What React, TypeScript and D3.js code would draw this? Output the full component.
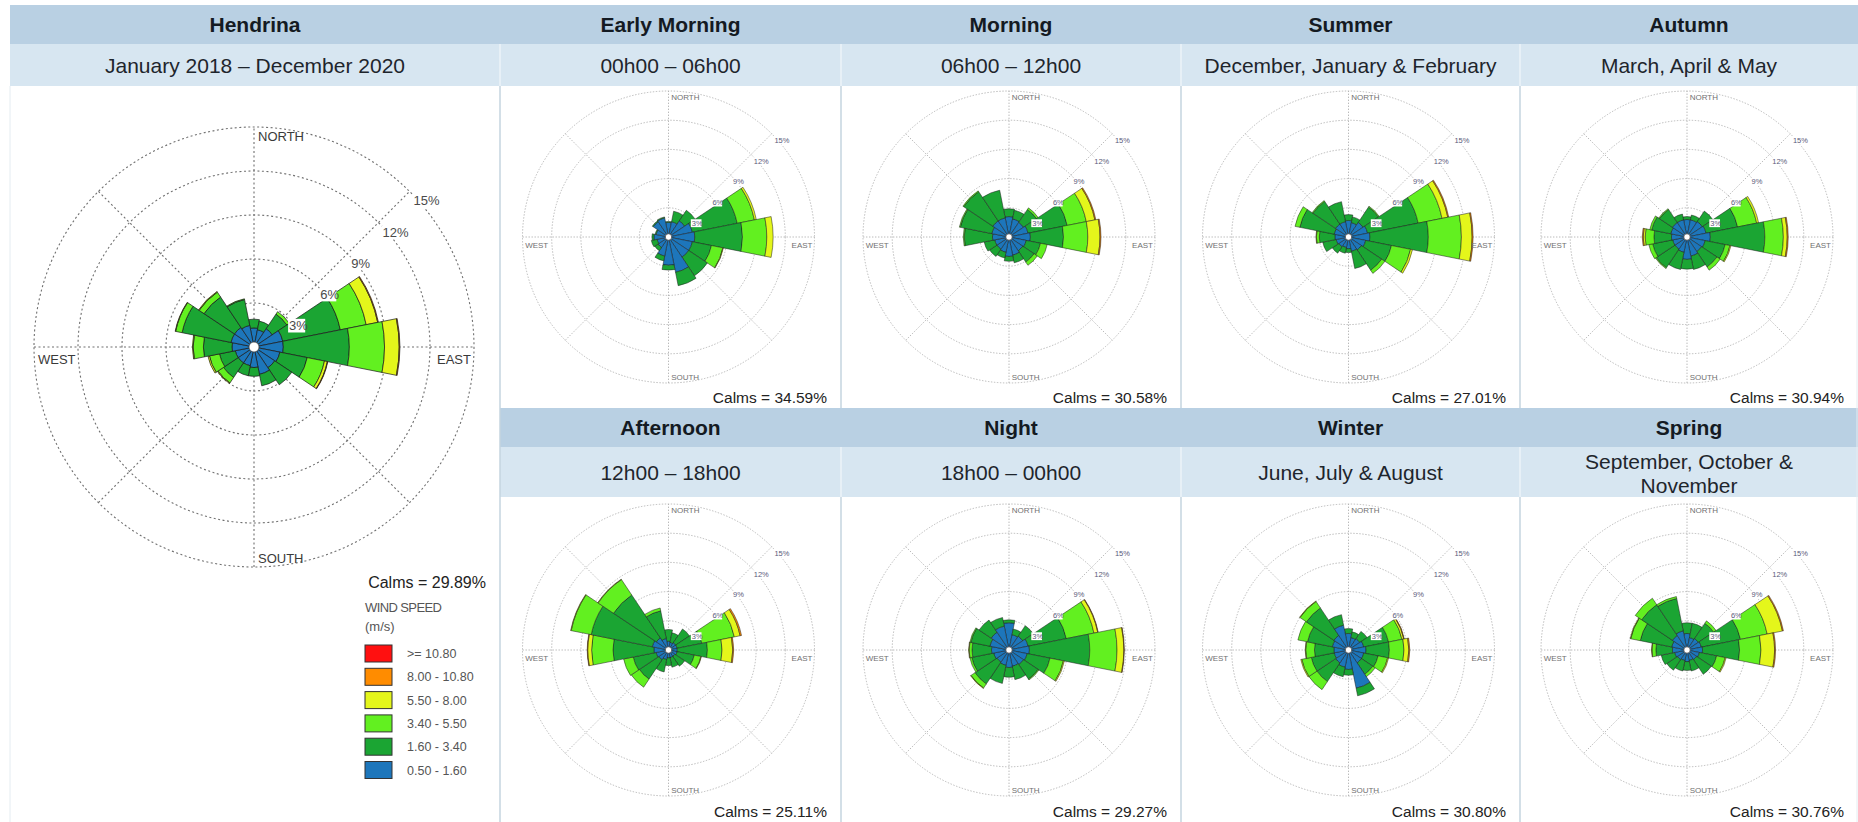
import React from "react";
import * as d3 from "d3";

// ---------- data ----------
// per direction (N, NNE, ... NNW): % frequency per speed class
// [0.50-1.60, 1.60-3.40, 3.40-5.50, 5.50-8.00, 8.00-10.80, >=10.80]
const directions = ["N","NNE","NE","ENE","E","ESE","SE","SSE","S","SSW","SW","WSW","W","WNW","NW","NNW"];

const hendrinaAll = [
  [1.3,0.6],[1.2,0.6],[1.5,1.2,0.2],[2.0,4.0,1.8,0.8,0.05],[2.0,4.5,2.4,1.0,0.05],[1.8,1.9,1.2,0.2,0.03],
  [1.7,1.4],[1.9,0.8],[1.4,0.6],[1.3,0.7],[1.3,1.2,0.45,0.05],[1.3,1.1,0.7,0.1],
  [1.5,1.95,0.7,0.05],[1.6,3.4,0.45,0.03],[1.6,2.5,0.4,0.05],[1.5,1.8,0.05],
];
const earlyMorning = [
  [1.5,0.1],[1.6,1.1],[2.0,1.3],[2.5,4.7,1.8,0.2],[2.7,4.9,2.5,0.65],[2.5,2.0,1.2,0.05],
  [2.5,2.3],[3.7,1.4],[2.9,0.5],[2.0,0.5],[1.3,0.4],[1.2,0.6],
  [1.5,0.2],[1.3,0.1],[1.9,0.1],[2.0,0.1],
];
const morning = [
  [2.1,0.8],[1.9,0.9],[1.8,1.6,0.2],[2.0,4.1,2.0,0.9,0.1],[2.2,3.4,2.5,1.25,0.1],[1.8,1.5,0.7],
  [1.7,1.4,0.4],[1.9,0.8],[2.0,0.5],[1.6,0.6],[1.5,0.9],[1.5,1.1],
  [1.7,2.9,0.1],[1.8,3.3,0.1],[2.0,3.6,0.1],[2.0,2.9],
];
const summer = [
  [1.7,0.6],[1.5,0.6],[1.8,1.9,0.1],[2.0,5.3,2.5,0.6,0.1],[2.2,6.0,3.4,1.1,0.1],[1.8,2.7,2.0,0.2],
  [1.6,2.5,0.4],[1.5,1.8],[1.2,0.4],[1.1,0.6],[1.2,0.8],[1.3,1.4],
  [1.4,1.6,0.3,0.05],[1.5,3.6,0.5],[1.6,2.8,0.1],[1.6,2.1],
];
const autumn = [
  [1.8,0.3],[1.8,0.5],[1.9,1.3],[2.0,3.3,2.0,0.2],[2.4,5.6,1.9,0.4,0.1],[1.9,2.1,0.5,0.1],
  [1.8,1.9,0.4],[2.0,1.4],[2.3,1.0],[1.6,1.8],[1.5,2.3,0.1],[1.5,2.1,0.4],
  [1.6,1.8,0.9,0.2,0.1],[1.7,2.0,0.2],[1.8,1.6,0.1],[1.8,0.6],
];
const afternoon = [
  [0.9,1.2],[0.8,1.0],[0.9,1.7],[0.9,2.6,3.4,0.6,0.15],[0.9,3.1,1.5,1.1,0.1],[0.9,1.8,0.7,0.05],
  [0.8,1.2],[0.8,1.0],[0.8,0.8],[1.0,1.3],[1.2,2.4,1.0],[1.3,2.4,1.0],
  [1.5,4.2,2.2,0.4,0.05],[1.7,6.4,2.1,0.05],[1.5,5.3,1.9,0.05],[1.2,2.9,0.3],
];
const night = [
  [2.8,0.3],[1.6,0.6],[1.7,1.3],[2.0,4.0,2.9,0.4,0.05],[2.1,6.2,2.8,0.7,0.05],[1.9,2.4,1.4,0.1],
  [1.8,1.8,0.1],[1.7,1.4],[1.8,1.0],[1.6,1.9],[1.5,2.7,0.5,0.05],[1.6,2.3,0.2],
  [1.8,2.0,0.3,0.05],[2.0,2.0,0.1],[2.2,1.5],[2.5,0.9],
];
const winter = [
  [1.7,0.5],[1.3,0.6],[1.4,0.9],[1.6,2.6,1.4,0.2,0.05],[1.8,2.4,1.5,0.5,0.1],[1.6,1.5,1.0,0.1],
  [1.6,1.4,0.3],[4.0,0.8],[2.0,0.6],[1.8,1.0],[1.6,2.3,1.0],[1.5,2.4,1.0,0.1],
  [1.5,2.0,0.9,0.05],[1.7,2.6,1.0],[1.8,3.4,0.8,0.05],[2.6,1.1],
];
const spring = [
  [1.7,1.1],[1.3,1.5],[1.4,1.9,0.3],[1.5,4.1,2.8,1.6,0.1],[1.6,3.8,2.2,1.4,0.1],[1.3,1.8,0.9,0.1],
  [1.2,1.8],[1.1,1.1],[1.2,0.9],[1.1,1.1],[1.2,1.3],[1.3,1.4],
  [1.5,1.7,0.4,0.05],[1.6,3.3,1.0,0.05],[1.8,3.8,0.8],[2.0,3.4,0.2],
];

const ringValues = [3, 6, 9, 12, 15];
const speedColors = ["#1d76bb", "#1ba533", "#62f020", "#e4f61b", "#ff8c00", "#ff1010"];
const legendLabels = [">= 10.80", "8.00 - 10.80", "5.50 - 8.00", "3.40 - 5.50", "1.60 - 3.40", "0.50 - 1.60"];

const panelTitles = ["Early Morning", "Morning", "Summer", "Autumn", "Afternoon", "Night", "Winter", "Spring"];
const panelSubtitles = [
  ["00h00 \u2013 06h00"], ["06h00 \u2013 12h00"], ["December, January & February"], ["March, April & May"],
  ["12h00 \u2013 18h00"], ["18h00 \u2013 00h00"], ["June, July & August"], ["September, October &", "November"],
];
const panelCalms = ["34.59", "30.58", "27.01", "30.94", "25.11", "29.27", "30.80", "30.76"];
const panelData = [earlyMorning, morning, summer, autumn, afternoon, night, winter, spring];
const mainTitle = "Hendrina";
const mainSubtitle = "January 2018 \u2013 December 2020";
const mainCalm = "29.89";

// ---------- layout ----------
const FONT = "Liberation Sans, Arial, sans-serif";
const colX = [10, 500, 841, 1181, 1520, 1858];
const TITLE_BG = "#b9d0e3";
const SUB_BG = "#d7e6f1";
const SEP = "#c4d4df";

function Rose({ cx, cy, R, data, big }: any) {
  const r = d3.scaleLinear().domain([0, 15]).range([0, R]);
  const arcGen = d3.arc<any>();
  const step = (2 * Math.PI) / 16;
  const k = R / 220;
  const gridColor = big ? "#707070" : "#a8a8a8";
  const dash = big ? "2,2.5" : "1.4,1.6";
  const gw = big ? 1.1 : 0.8;
  const spokes = [0, 45, 90, 135].map((deg) => {
    const a = (deg * Math.PI) / 180;
    return { x1: cx - R * Math.sin(a), y1: cy + R * Math.cos(a), x2: cx + R * Math.sin(a), y2: cy - R * Math.cos(a) };
  });
  const segs: any[] = [];
  data.forEach((row: number[], i: number) => {
    let cum = 0;
    row.forEach((v: number, s: number) => {
      if (!v) return;
      const d = arcGen({
        innerRadius: r(cum),
        outerRadius: r(cum + v),
        startAngle: i * step - step / 2,
        endAngle: i * step + step / 2,
      });
      segs.push({ d, fill: speedColors[s], key: `${i}-${s}` });
      cum += v;
    });
  });
  const ringFont = big ? 13 : 7.5;
  const compFont = big ? 13 : 8;
  return (
    <g>
      {ringValues.map((v) => (
        <circle key={v} cx={cx} cy={cy} r={r(v)} fill="none" stroke={gridColor} strokeWidth={gw} strokeDasharray={dash} />
      ))}
      {spokes.map((s, i) => (
        <line key={i} {...s} stroke={gridColor} strokeWidth={gw} strokeDasharray={dash} />
      ))}
      <g transform={`translate(${cx},${cy})`}>
        {segs.map((s) => (
          <path key={s.key} d={s.d} fill={s.fill} stroke="#1a1a1a" strokeWidth={big ? 0.7 : 0.5} />
        ))}
      </g>
      <circle cx={cx} cy={cy} r={big ? 5 : 3.2} fill="#fff" stroke="#444" strokeWidth={0.7} />
      {ringValues.map((v) => {
        const px = cx + r(v) * Math.SQRT1_2 + 4 * k;
        const py = cy - r(v) * Math.SQRT1_2 + 14 * k;
        const label = `${v}%`;
        const w = label.length * ringFont * 0.58;
        return (
          <g key={v}>
            <rect x={px - 1} y={py - ringFont * 0.85} width={w + 2} height={ringFont * 1.05} fill="#fff" />
            <text x={px} y={py} fontSize={ringFont} fill={big ? "#4a4a4a" : "#5a5a7a"} fontFamily={FONT}>
              {label}
            </text>
          </g>
        );
      })}
      <g fontFamily={FONT} fontSize={compFont} fill={big ? "#3a3a3a" : "#707070"}>
        <text x={cx + 4 * k} y={cy - R + 14 * k}>NORTH</text>
        <text x={cx + 4 * k} y={cy + R - 4 * k}>SOUTH</text>
        <text x={cx - R + 4 * k} y={cy + 17 * k}>WEST</text>
        <text x={cx + R - 3 * k} y={cy + 17 * k} textAnchor="end">EAST</text>
      </g>
    </g>
  );
}

export default function App() {
  const W = 1858, H = 822;
  const rows = [
    { titleY: 5, subY: 44, subH: 42, panelY: 86, panelB: 408, cy: 237 },
    { titleY: 408, subY: 447, subH: 50, panelY: 497, panelB: 822, cy: 650 },
  ];
  const smallR = 146;
  return (
    <svg width={W} height={H} style={{ position: "absolute", left: 0, top: 0, background: "#fff" }} fontFamily={FONT}>
      <rect x={0} y={0} width={W} height={H} fill="#fff" />
      {/* bands */}
      <rect x={colX[0]} y={5} width={W - colX[0]} height={39} fill={TITLE_BG} />
      <rect x={colX[0]} y={44} width={W - colX[0]} height={42} fill={SUB_BG} />
      <rect x={colX[1]} y={408} width={W - colX[1]} height={39} fill={TITLE_BG} />
      <rect x={colX[1]} y={447} width={W - colX[1]} height={50} fill={SUB_BG} />
      {/* separators */}
      {colX.slice(1, 5).map((x, i) => (
        <g key={i}>
          <line x1={x} x2={x} y1={44} y2={86} stroke="#f2f7fb" strokeWidth={1.2} />
          <line x1={x} x2={x} y1={86} y2={i === 0 ? H : 408} stroke={SEP} strokeWidth={1.5} />
          {i > 0 && <line x1={x} x2={x} y1={447} y2={497} stroke="#f2f7fb" strokeWidth={1.2} />}
          {i > 0 && <line x1={x} x2={x} y1={497} y2={H} stroke={SEP} strokeWidth={1.5} />}
        </g>
      ))}
      <line x1={colX[0]} x2={colX[0]} y1={86} y2={H} stroke="#e4ecf1" strokeWidth={1} />
      <line x1={W - 1} x2={W - 1} y1={86} y2={H} stroke="#e4ecf1" strokeWidth={1} />
      {/* main header */}
      <text x={(colX[0] + colX[1]) / 2} y={32} textAnchor="middle" fontSize={21} fontWeight="bold" fill="#141a22">
        {mainTitle}
      </text>
      <text x={(colX[0] + colX[1]) / 2} y={72.5} textAnchor="middle" fontSize={21} fill="#1e252c">
        {mainSubtitle}
      </text>
      {/* main rose */}
      <Rose cx={254} cy={347} R={220} data={hendrinaAll} big />
      {/* legend */}
      <text x={486} y={588} textAnchor="end" fontSize={16} fill="#222">{`Calms = ${mainCalm}%`}</text>
      <text x={365} y={612} fontSize={13} fill="#555" letterSpacing={-0.6}>WIND SPEED</text>
      <text x={365} y={631} fontSize={13} fill="#555">(m/s)</text>
      {legendLabels.map((lab, i) => {
        const y = 645 + i * 23.3;
        return (
          <g key={lab}>
            <rect x={365} y={y} width={27} height={17} fill={speedColors[5 - i]} stroke="#333" strokeWidth={1} />
            <text x={407} y={y + 13} fontSize={12.5} fill="#555">{lab}</text>
          </g>
        );
      })}
      {/* small panels */}
      {panelTitles.map((t, p) => {
        const row = rows[Math.floor(p / 4)];
        const c = (p % 4) + 1;
        const x0 = colX[c], x1 = colX[c + 1];
        const mid = (x0 + x1) / 2;
        const subs = panelSubtitles[p];
        const subCenter = row.subY + row.subH / 2;
        return (
          <g key={t}>
            <text x={mid} y={row.titleY + 27} textAnchor="middle" fontSize={21} fontWeight="bold" fill="#141a22">
              {t}
            </text>
            {subs.map((s, j) => (
              <text
                key={j}
                x={mid}
                y={subs.length === 1 ? subCenter + 7.5 : subCenter - 3 + j * 24}
                textAnchor="middle"
                fontSize={21}
                fill="#1e252c"
              >
                {s}
              </text>
            ))}
            <Rose cx={mid - 2} cy={row.cy} R={smallR} data={panelData[p]} />
            <text x={x1 - 14} y={row.panelB - 5} textAnchor="end" fontSize={15.5} fill="#222">
              {`Calms = ${panelCalms[p]}%`}
            </text>
          </g>
        );
      })}
    </svg>
  );
}
